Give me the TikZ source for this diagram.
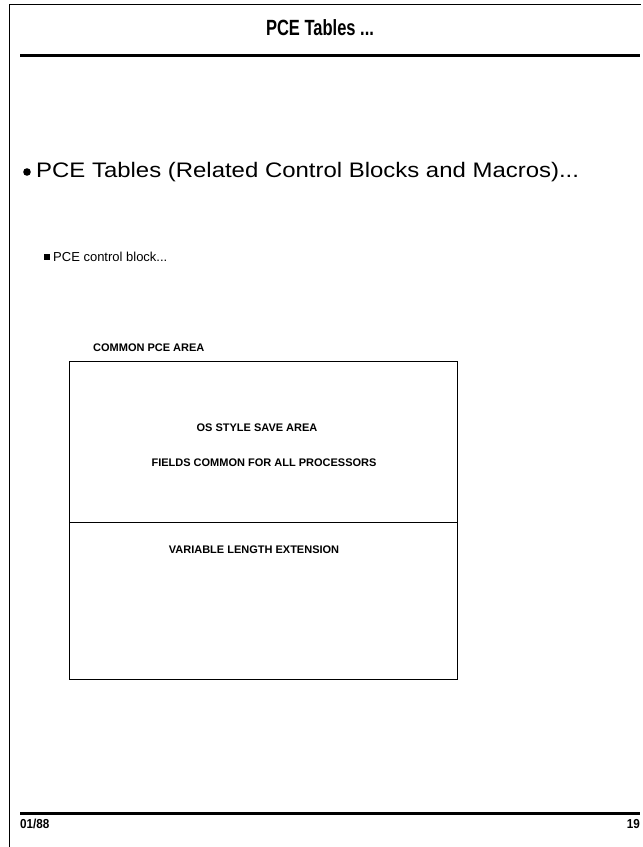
\documentclass[tikz,border=0pt]{standalone}
\usepackage{fontspec}
\setmainfont{Liberation Sans}
\newfontfamily\boxfont{Liberation Sans Bold}
\newfontfamily\titlefont[FakeStretch=0.75]{Liberation Sans Bold}
\newfontfamily\widefont[FakeStretch=1.14]{Liberation Sans}
\newfontfamily\footfont[FakeStretch=0.9]{Liberation Sans Bold}
\begin{document}
\begin{tikzpicture}[x=1pt,y=-1pt,
  frame/.style={line width=1pt, black},
  rulethick/.style={line width=3pt, black},
  boxlabel/.style={font=\boxfont\fontsize{11}{13}\selectfont, inner sep=0pt},
  title/.style={font=\titlefont\fontsize{22}{26}\selectfont, inner sep=0pt},
  bulletA/.style={font=\widefont\fontsize{21}{25}\selectfont, inner sep=0pt, anchor=west},
  bulletB/.style={font=\fontsize{13}{16}\selectfont, inner sep=0pt, anchor=west},
  foot/.style={font=\footfont\fontsize{13}{15}\selectfont, inner sep=0pt}]
\useasboundingbox (0,0) rectangle (643,847);
\fill[white] (0,0) rectangle (643,847);
% page frame
\draw[frame] (9,847) -- (9,4) -- (641,4);
% title
\node[title] (ttl) at (320,28) {PCE Tables ...};
\draw[rulethick] (20,55) -- (640,55);
% bullets
\fill (27,172) circle (3.8);
\node[bulletA] (b1) at (36,172) {PCE Tables (Related Control Blocks and Macros)...};
\fill (44,254) rectangle (49.5,259.5);
\node[bulletB] (b2) at (53,257) {PCE control block...};
% diagram
\node[boxlabel, anchor=west] (cpa) at (93,348) {COMMON PCE AREA};
\draw[line width=1pt] (69,361) rectangle (457,679);
\draw[line width=1pt] (69,522) -- (457,522);
\node[boxlabel] (os) at (257,428) {OS STYLE SAVE AREA};
\node[boxlabel] (fc) at (264,463) {FIELDS COMMON FOR ALL PROCESSORS};
\node[boxlabel] (vl) at (254,550) {VARIABLE LENGTH EXTENSION};
% footer
\draw[rulethick] (20,813) -- (640,813);
\node[foot, anchor=west] (dt) at (20,824) {01/88};
\node[foot, anchor=east] (pg) at (640,824) {19};
\end{tikzpicture}
\end{document}
